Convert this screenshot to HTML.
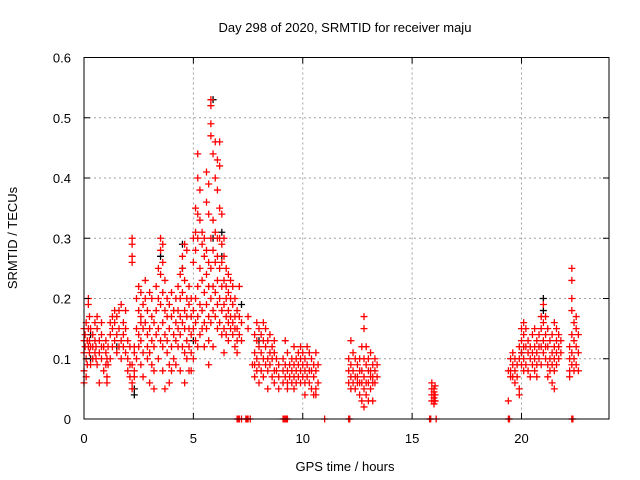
<!DOCTYPE html>
<html><head><meta charset="utf-8"><style>
body{margin:0;background:#fff}
svg{display:block;font-family:"Liberation Sans",sans-serif}
</style></head><body>
<svg id="chart" width="640" height="480" viewBox="0 0 640 480">
<rect x="0" y="0" width="640" height="480" fill="#fff"/>
<g id="grid"></g>
<g id="marks"></g>
<rect x="84" y="57.5" width="525" height="361.5" fill="none" stroke="#000" stroke-width="1"/>
<g id="axes"></g>
<text x="345" y="32" font-size="13" text-anchor="middle">Day 298 of 2020, SRMTID for receiver maju</text>
<text x="345" y="471" font-size="13" text-anchor="middle">GPS time / hours</text>
<text transform="translate(17,238) rotate(-90)" font-size="13" text-anchor="middle">SRMTID / TECUs</text>
</svg>
<script>
const xTicks=[0,5,10,15,20];
const yTicks=[0,0.1,0.2,0.3,0.4,0.5,0.6];
const yTickLabels=["0","0.1","0.2","0.3","0.4","0.5","0.6"];
const blackGroups=[[0.3,[0.14,0.1]],[1.5,[0.12]],[2.3,[0.05,0.04]],[3.5,[0.27]],[4.5,[0.29,0.25]],[5.0,[0.13]],[5.9,[0.53,0.3]],[6.3,[0.31,0.27]],[7.2,[0.19]],[8.0,[0.13]],[20.0,[0.11]],[21.0,[0.2,0.18]]];
const redGroups=[
[0.0,[0.15,0.13,0.11,0.08,0.06]],[0.05,[0.14,0.12]],[0.1,[0.16,0.10,0.07]],[0.15,[0.13,0.09]],[0.2,[0.15,0.12,0.2,0.19]],[0.25,[0.11,0.13,0.17]],[0.3,[0.12,0.09,0.15]],[0.4,[0.14,0.1,0.12]],[0.5,[0.11,0.13,0.16]],[0.55,[0.1,0.12]],[0.6,[0.15,0.17,0.09]],[0.7,[0.13,0.11,0.06]],[0.8,[0.14,0.16,0.12,0.1]],[0.9,[0.12,0.08]],[1.0,[0.11,0.13,0.09]],[1.05,[0.07,0.06,0.1]],[1.1,[0.09,0.12]],[1.2,[0.14,0.16,0.1]],[1.3,[0.17,0.15,0.12]],[1.4,[0.16,0.13,0.18]],[1.5,[0.14,0.11,0.17]],[1.6,[0.15,0.12,0.18]],[1.7,[0.13,0.19,0.1]],[1.8,[0.16,0.14,0.12]],[1.9,[0.18,0.11,0.15]],[2.0,[0.1,0.08,0.13]],[2.1,[0.09,0.07,0.12]],
[2.2,[0.3,0.29,0.27,0.26,0.06,0.05,0.09]],[2.3,[0.08,0.11,0.07,0.12]],[2.4,[0.1,0.15,0.2]],[2.5,[0.14,0.18,0.22,0.12]],[2.6,[0.16,0.21,0.17,0.13,0.09]],[2.7,[0.19,0.15,0.11,0.07]],[2.8,[0.2,0.23,0.16]],[2.9,[0.14,0.18,0.12,0.1]],[3.0,[0.11,0.15,0.21,0.06]],[3.1,[0.13,0.17,0.09,0.2]],[3.2,[0.16,0.12,0.08,0.05]],[3.3,[0.18,0.14,0.22]],[3.4,[0.25,0.2,0.15,0.1]],[3.5,[0.28,0.3,0.24,0.19,0.13]],[3.6,[0.29,0.26,0.21,0.16,0.12,0.08]],[3.7,[0.23,0.18,0.14,0.05]],[3.8,[0.2,0.17,0.11,0.13]],[3.9,[0.19,0.15,0.09,0.06]],[4.0,[0.17,0.21,0.12,0.08]],[4.1,[0.14,0.18,0.1]],[4.2,[0.2,0.16,0.13,0.09]],[4.3,[0.22,0.18,0.15,0.12]],[4.4,[0.24,0.2,0.17,0.14,0.08]],[4.5,[0.27,0.25,0.21,0.16,0.12]],[4.6,[0.29,0.23,0.18,0.15,0.11,0.06]],[4.7,[0.28,0.2,0.17,0.13,0.1]],[4.8,[0.22,0.19,0.15,0.12,0.08]],
[4.9,[0.2,0.17,0.14,0.11,0.08]],[5.0,[0.3,0.26,0.18,0.15,0.1]],[5.1,[0.35,0.31,0.28,0.2,0.16,0.13]],[5.2,[0.44,0.4,0.34,0.3,0.22,0.17,0.12]],[5.3,[0.38,0.33,0.25,0.19,0.14]],[5.4,[0.31,0.29,0.23,0.18,0.15]],[5.5,[0.3,0.27,0.21,0.16,0.12]],[5.6,[0.41,0.36,0.28,0.24,0.19,0.15]],[5.7,[0.39,0.34,0.26,0.22,0.17,0.13,0.09]],[5.8,[0.53,0.52,0.47,0.49,0.3,0.25,0.2,0.16]],[5.9,[0.44,0.33,0.28,0.22,0.18,0.12]],[6.0,[0.46,0.4,0.31,0.26,0.21,0.17]],[6.1,[0.43,0.38,0.3,0.27,0.23,0.19,0.15]],[6.2,[0.46,0.42,0.35,0.3,0.25,0.2,0.16]],[6.3,[0.34,0.29,0.26,0.22,0.18,0.14]],[6.4,[0.3,0.27,0.23,0.19,0.15,0.11]],[6.5,[0.25,0.22,0.2,0.17,0.14]],[6.6,[0.24,0.21,0.18,0.16,0.13]],[6.7,[0.23,0.2,0.17,0.15]],[6.8,[0.22,0.19,0.16,0.14]],[6.9,[0.2,0.17,0.15,0.12]],[7.0,[0.18,0.15,0.13,0.11]],[7.1,[0.22,0.17,0.14]],[7.2,[0.16,0.13]],[7.5,[0.17,0.15]],[7.7,[0.09]],
[7.8,[0.14,0.11,0.09,0.07]],[7.9,[0.16,0.13,0.1,0.08]],[8.0,[0.15,0.12,0.09,0.06]],[8.1,[0.14,0.11,0.08]],[8.2,[0.16,0.13,0.1,0.07]],[8.3,[0.15,0.12,0.09]],[8.4,[0.13,0.1,0.08,0.05]],[8.5,[0.14,0.11,0.09]],[8.6,[0.12,0.1,0.07]],[8.7,[0.13,0.11,0.08,0.06]],[8.8,[0.1,0.08]],[8.9,[0.09,0.07,0.05]],
[9.1,[0.1,0.08,0.06]],[9.2,[0.13,0.09,0.07]],[9.3,[0.11,0.08,0.06,0.05]],[9.4,[0.09,0.07]],[9.5,[0.1,0.08,0.06]],[9.6,[0.12,0.09,0.07,0.05]],[9.7,[0.1,0.08,0.06]],[9.8,[0.11,0.09,0.07]],[9.9,[0.12,0.1,0.08,0.06]],[10.0,[0.11,0.09,0.07]],[10.1,[0.1,0.08,0.06,0.04]],[10.2,[0.12,0.09,0.07]],[10.3,[0.11,0.08,0.06]],[10.4,[0.1,0.08,0.05]],[10.5,[0.09,0.07,0.04]],[10.6,[0.11,0.08,0.05,0.04]],[10.7,[0.09,0.06]],
[12.1,[0.1,0.08,0.06]],[12.2,[0.13,0.09,0.07,0.05]],[12.3,[0.11,0.08,0.06]],[12.4,[0.1,0.07,0.05]],[12.5,[0.09,0.07,0.06]],[12.6,[0.1,0.08,0.06,0.04]],[12.7,[0.12,0.08,0.06,0.03]],[12.8,[0.17,0.15,0.1,0.07,0.05,0.02]],[12.9,[0.12,0.09,0.06,0.04]],[13.0,[0.1,0.08,0.06,0.03]],[13.1,[0.11,0.08,0.07,0.05]],[13.2,[0.09,0.07,0.06,0.03]],[13.3,[0.1,0.08,0.06]],[13.4,[0.09,0.07]],
[15.9,[0.06,0.05,0.04,0.03]],[16.0,[0.05,0.045,0.04,0.035,0.03,0.025]],[16.05,[0.055,0.04,0.03]],
[19.4,[0.03,0.08]],[19.5,[0.1,0.08,0.07]],[19.6,[0.11,0.09,0.07]],[19.7,[0.1,0.08,0.06]],[19.8,[0.09,0.07]],[19.9,[0.04,0.05,0.1,0.12]],[20.0,[0.15,0.13,0.11,0.09]],[20.1,[0.16,0.14,0.12,0.1,0.08]],[20.2,[0.15,0.12,0.09]],[20.3,[0.13,0.11,0.08]],[20.4,[0.12,0.1,0.07]],[20.5,[0.14,0.11,0.09]],[20.6,[0.15,0.12,0.1,0.08]],[20.7,[0.13,0.11,0.09,0.07]],[20.8,[0.14,0.12,0.1]],[20.9,[0.17,0.15,0.12,0.09]],[21.0,[0.19,0.16,0.13,0.11]],[21.1,[0.17,0.14,0.12,0.1]],[21.2,[0.15,0.12,0.09,0.07]],[21.3,[0.13,0.1,0.08]],[21.4,[0.14,0.11,0.09,0.06]],[21.5,[0.16,0.12,0.1,0.08,0.05]],[21.6,[0.15,0.13,0.11,0.09]],[21.7,[0.14,0.12,0.1]],[21.8,[0.13,0.11]],
[22.2,[0.12,0.1,0.08,0.07]],[22.3,[0.25,0.23,0.2,0.18,0.14,0.11,0.09]],[22.4,[0.16,0.13,0.1,0.08]],[22.5,[0.17,0.15,0.12,0.09]],[22.6,[0.14,0.11,0.08]]
];
const zeroTimes=[7.0,7.05,7.1,7.2,7.4,7.45,7.5,7.6,9.1,9.15,9.2,9.25,9.3,11.0,12.1,12.15,15.8,15.85,16.1,19.4,19.45,22.3,22.35];

const X0=84,X1=609,Y0=419,Y1=57.5,XMAX=24,YMAX=0.6;
function sx(t){return X0+(X1-X0)*t/XMAX;}
function sy(v){return Y0-(Y0-Y1)*v/YMAX;}
const NS="http://www.w3.org/2000/svg";
const grid=document.getElementById('grid'),axes=document.getElementById('axes'),marks=document.getElementById('marks');
function mk(tag,attrs,parent){const e=document.createElementNS(NS,tag);for(const k in attrs)e.setAttribute(k,attrs[k]);parent.appendChild(e);return e;}
yTicks.forEach((v,i)=>{
  const y=sy(v);
  if(i>0&&i<yTicks.length-1){const g=mk('line',{x1:X0,x2:X1,y1:y,y2:y,stroke:'#a0a0a0','stroke-dasharray':'2,3'},grid);
  
  }
  const t=mk('line',{x1:X0,x2:X0+6,y1:y,y2:y,stroke:'#000'},axes);
  
  
  const t2=mk('line',{x1:X1,x2:X1-6,y1:y,y2:y,stroke:'#000'},axes);
  
  
  const l=mk('text',{x:X0-13,y:y+5,'font-size':'13','text-anchor':'end'},axes);
  l.textContent=yTickLabels[i];
  
  
});
xTicks.forEach(v=>{
  const x=sx(v);
  if(v>0){const g=mk('line',{x1:x,x2:x,y1:Y1,y2:Y0,stroke:'#a0a0a0','stroke-dasharray':'2,3'},grid);
  
  }
  const t=mk('line',{x1:x,x2:x,y1:Y0,y2:Y0-6,stroke:'#000'},axes);
  
  
  const t2=mk('line',{x1:x,x2:x,y1:Y1,y2:Y1+6,stroke:'#000'},axes);
  
  
  const l=mk('text',{x:x,y:Y0+24,'font-size':'13','text-anchor':'middle'},axes);
  l.textContent=String(v);
  
  
});
function plus(t,v,color,name){
  const x=sx(t),y=sy(v);
  const p=mk('path',{d:`M${x-3.5},${y}H${x+3.5}M${x},${y-3.5}V${y+3.5}`,stroke:color,'stroke-width':'1.3',fill:'none'},marks);
  
  
}
blackGroups.forEach(g=>g[1].forEach(v=>plus(g[0],v,'#000','point-all')));
redGroups.forEach(g=>g[1].forEach(v=>plus(g[0],v,'#f00','point-srmtid')));
zeroTimes.forEach(t=>plus(t,0,'#f00','point-zero'));
</script>
</body></html>
